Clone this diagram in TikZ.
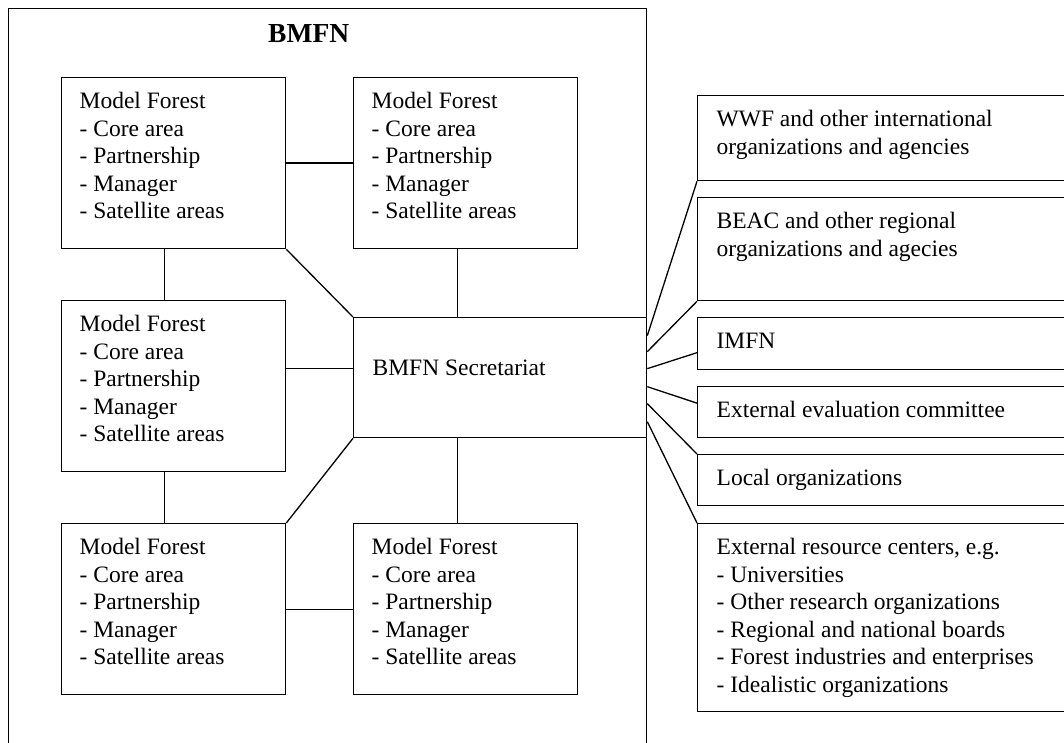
\documentclass[tikz,border=0pt]{standalone}
\usepackage{fontspec}
\setmainfont{Liberation Serif}
\usepackage{tikz}
\tikzstyle{mf}=[draw,line width=1.3pt,anchor=north west,inner xsep=18pt,inner ysep=15pt,font=\fontsize{23.5}{27.5}\selectfont]
\tikzstyle{rb}=[draw,line width=1.3pt,anchor=north west,inner xsep=19pt,inner ysep=15pt,font=\fontsize{23.5}{27.5}\selectfont]
\tikzstyle{link}=[line width=1.3pt]
\newcommand{\boxtext}[3]{\parbox[t][#1][t]{#2}{#3}}
\newcommand{\mfitems}{Model Forest\\- Core area\\- Partnership\\- Manager\\- Satellite areas}

\begin{document}
\begin{tikzpicture}[x=1pt,y=-1pt]
            \useasboundingbox (0,0) rectangle (1064,743);
            \node[draw,line width=1.3pt,anchor=north west,inner sep=0,minimum width=638pt,minimum height=737pt] (net) at (8,8) {}
            ;
            \node[anchor=base west,inner sep=0,font=\fontsize{27.5}{33}\selectfont\bfseries] (title) at (268,43) {BMFN}
            ;
            \node[mf] (mfa) at (61,77) {\boxtext{141pt}{188pt}{\mfitems}}
            ;
            \node[mf] (mfb) at (353,77) {\boxtext{141pt}{188pt}{\mfitems}}
            ;
            \node[mf] (mfc) at (61,300) {\boxtext{141pt}{188pt}{\mfitems}}
            ;
            \node[mf] (mfd) at (61,523) {\boxtext{141pt}{188pt}{\mfitems}}
            ;
            \node[mf] (mfe) at (353,523) {\boxtext{141pt}{188pt}{\mfitems}}
            ;
            \node[rb,inner ysep=42pt] (sec) at (353,317) {\boxtext{36pt}{255pt}{BMFN Secretariat}}
            ;
            \node[rb] (wwf) at (697,95) {\boxtext{55pt}{330pt}{WWF and other international\\organizations and agencies}}
            ;
            \node[rb] (beac) at (697,197) {\boxtext{73pt}{330pt}{BEAC and other regional\\organizations and agecies}}
            ;
            \node[rb] (imfn) at (697,317) {\boxtext{22pt}{330pt}{IMFN}}
            ;
            \node[rb] (eval) at (697,386) {\boxtext{21pt}{330pt}{External evaluation committee}}
            ;
            \node[rb] (local) at (697,454) {\boxtext{21pt}{330pt}{Local organizations}}
            ;
            \node[rb] (extres) at (697,523) {\boxtext{158pt}{330pt}{External resource centers, e.g.\\- Universities\\- Other research organizations\\- Regional and national boards\\- Forest industries and enterprises\\- Idealistic organizations}}
            ;
            % links inside the network
            \draw[link] (mfa.east) -- (mfb.west);
            \draw[link] ([xshift=-9.5pt]mfa.south) -- ([xshift=-9.5pt]mfc.north);
            \draw[link] ([xshift=-9.5pt]mfc.south) -- ([xshift=-9.5pt]mfd.north);
            \draw[link] (mfd.east) -- (mfe.west);
            \draw[link] (mfa.south east) -- (sec.north west);
            \draw[link] (mfd.north east) -- (sec.south west);
            \draw[link] ([xshift=-8pt]mfb.south) -- ([xshift=-8pt]mfb.south |- sec.north);
            \draw[link] ([xshift=-8pt]mfe.north) -- ([xshift=-8pt]mfe.north |- sec.south);
            \draw[link] ([yshift=9pt]sec.west) -- ([yshift=9pt]sec.west -| mfc.east);
            % links to the outside
            \draw[link] ([yshift=42pt]sec.east) -- (wwf.south west);
            \draw[link] ([yshift=26pt]sec.east) -- (beac.south west);
            \draw[link] ([yshift=9pt]sec.east) -- ([yshift=-9pt]imfn.west);
            \draw[link] ([yshift=-9pt]sec.east) -- ([yshift=9pt]eval.west);
            \draw[link] ([yshift=-26pt]sec.east) -- (local.north west);
            \draw[link] ([yshift=-44pt]sec.east) -- (extres.north west);
        \end{tikzpicture}
\end{document}
